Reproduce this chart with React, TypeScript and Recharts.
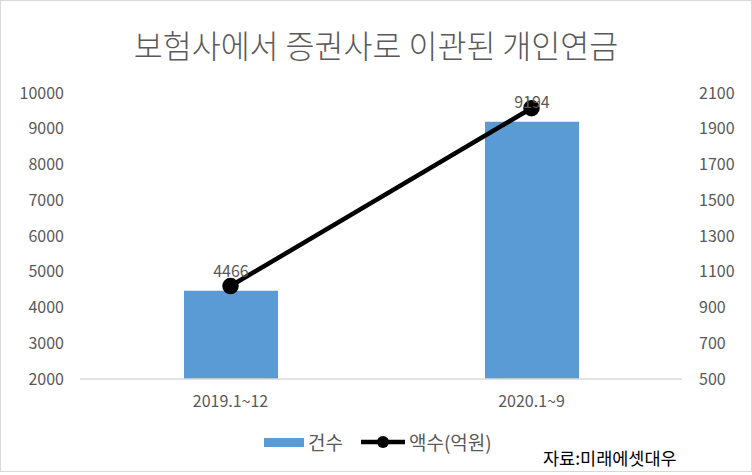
import { Bar, ComposedChart, LabelList, Line, XAxis, YAxis } from "recharts"

const categories = ["2019.1~12", "2020.1~9"]
const counts = [4466, 9194]
const amounts = [1020, 2015]
const countTicks = [2000, 3000, 4000, 5000, 6000, 7000, 8000, 9000, 10000]
const amountTicks = [500, 700, 900, 1100, 1300, 1500, 1700, 1900, 2100]

const FONT = '"Noto Sans CJK KR", "Noto Sans", sans-serif'
const TEXT = "#595959"
const BAR = "#5B9BD5"

export default function App() {
  const data = categories.map((name, i) => ({
    name,
    count: counts[i],
    amount: amounts[i],
  }))

  return (
    <div
      style={{
        position: "absolute",
        top: 0,
        left: 0,
        width: 750,
        height: 470,
        border: "1px solid #d9d9d9",
        background: "#fff",
        fontFamily: FONT,
        color: TEXT,
        overflow: "hidden",
      }}
    >
      <div
        style={{
          position: "absolute",
          top: 22,
          left: 0,
          width: 750,
          textAlign: "center",
          fontSize: 31.5,
          fontWeight: 300,
          lineHeight: "42px",
        }}
      >
        보험사에서 증권사로 이관된 개인연금
      </div>
      <ComposedChart
        width={750}
        height={470}
        data={data}
        margin={{ top: 92, right: 0, bottom: 0, left: 0 }}
        style={{ position: "absolute", top: 0, left: -1 }}
      >
        <XAxis
          dataKey="name"
          axisLine={{ stroke: "#d9d9d9", strokeWidth: 1.5 }}
          tickLine={false}
          tick={{ fill: TEXT, fontSize: 16, fontFamily: FONT }}
          tickMargin={11}
          height={92}
        />
        <YAxis
          yAxisId="left"
          domain={[2000, 10000]}
          ticks={countTicks}
          interval={0}
          axisLine={false}
          tickLine={false}
          tick={{ fill: TEXT, fontSize: 16, fontFamily: FONT }}
          tickMargin={10}
          width={80}
        />
        <YAxis
          yAxisId="right"
          orientation="right"
          domain={[500, 2100]}
          ticks={amountTicks}
          interval={0}
          axisLine={false}
          tickLine={false}
          tick={{ fill: TEXT, fontSize: 16, fontFamily: FONT, textAnchor: "start" }}
          tickMargin={11}
          width={68}
        />
        <Bar yAxisId="left" dataKey="count" fill={BAR} barSize={94} isAnimationActive={false}>
          <LabelList
            dataKey="count"
            position="top"
            offset={14}
            fill={TEXT}
            fontSize={16}
            fontFamily={FONT}
          />
        </Bar>
        <Line
          yAxisId="right"
          dataKey="amount"
          stroke="#000"
          strokeWidth={4.5}
          dot={{ r: 6, fill: "#000", stroke: "#000" }}
          isAnimationActive={false}
        />
      </ComposedChart>
      <div
        style={{
          position: "absolute",
          top: 427,
          left: 262,
          display: "flex",
          alignItems: "center",
          fontSize: 19,
        }}
      >
        <svg width={42} height={22}>
          <rect x={1} y={7} width={40} height={9} fill={BAR} />
        </svg>
        <span style={{ marginLeft: 3 }}>건수</span>
        <svg width={46} height={22} style={{ marginLeft: 17 }}>
          <line x1={1} y1={11} x2={45} y2={11} stroke="#000" strokeWidth={4.5} />
          <circle cx={23} cy={11} r={6} fill="#000" />
        </svg>
        <span style={{ marginLeft: 3 }}>액수(억원)</span>
      </div>
      <div
        style={{
          position: "absolute",
          top: 444,
          left: 542,
          fontSize: 17.5,
          color: "#000",
        }}
      >
        자료:미래에셋대우
      </div>
    </div>
  )
}
